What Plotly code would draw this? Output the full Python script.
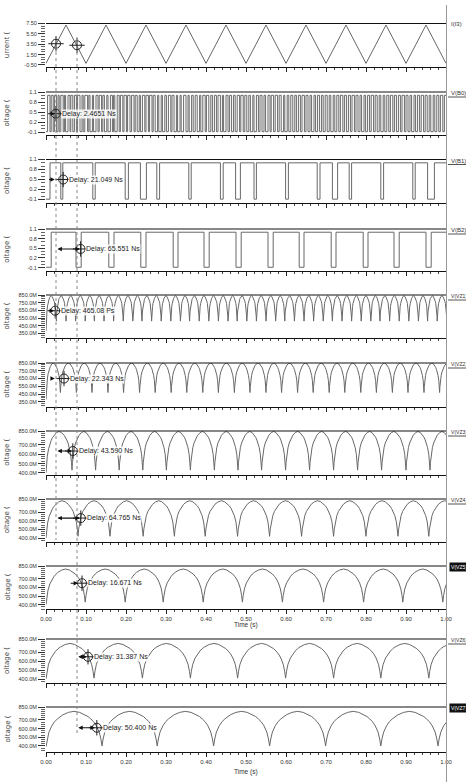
import plotly.graph_objects as go

W, H = 466, 782
XL, XR = 46, 446          # plot area left / right (px)

# ---------------- data ----------------
time_ticks = [0.0, 0.1, 0.2, 0.3, 0.4, 0.5, 0.6, 0.7, 0.8, 0.9, 1.0]
time_labels = ["0.00", "0.10", "0.20", "0.30", "0.40", "0.50", "0.60", "0.70", "0.80", "0.90", "1.00"]

# I(I3) triangle: corner times (us) and values
i3_t = [0.00, 0.05, 0.10, 0.15, 0.20, 0.25, 0.30, 0.35, 0.40, 0.45, 0.50,
        0.55, 0.60, 0.65, 0.70, 0.75, 0.80, 0.85, 0.90, 0.95, 1.00]
i3_v = [-0.2, 7.2, -0.2, 7.2, -0.2, 7.2, -0.2, 7.2, -0.2, 7.2, -0.2,
        7.2, -0.2, 7.2, -0.2, 7.2, -0.2, 7.2, -0.2, 7.2, -0.2]

# digital outputs: toggle times (us), signal starts low
b0_edges = [0.004, 0.010, 0.013, 0.018, 0.021, 0.026, 0.030, 0.033, 0.037, 0.043, 0.046, 0.049,
            0.055, 0.060, 0.062, 0.067, 0.071, 0.076, 0.079, 0.085, 0.090, 0.093, 0.097, 0.104,
            0.107, 0.110, 0.116, 0.119, 0.125, 0.130, 0.133, 0.139, 0.142, 0.146, 0.152, 0.155,
            0.161, 0.166, 0.169, 0.172, 0.178, 0.183, 0.186, 0.192, 0.195, 0.201, 0.204, 0.210,
            0.214, 0.220, 0.223, 0.228, 0.233, 0.236, 0.241, 0.247, 0.250, 0.256, 0.259, 0.265,
            0.268, 0.273, 0.279, 0.282, 0.288, 0.291, 0.297, 0.301, 0.306, 0.312, 0.315, 0.320,
            0.326, 0.329, 0.335, 0.338, 0.344, 0.350, 0.355, 0.358, 0.364, 0.368, 0.373, 0.378,
            0.384, 0.387, 0.392, 0.398, 0.401, 0.407, 0.412, 0.416, 0.421, 0.426, 0.430, 0.436,
            0.441, 0.444, 0.450, 0.455, 0.459, 0.464, 0.469, 0.473, 0.478, 0.484, 0.487, 0.493,
            0.497, 0.502, 0.507, 0.511, 0.517, 0.520, 0.526, 0.531, 0.535, 0.540, 0.545, 0.549,
            0.555, 0.560, 0.563, 0.569, 0.573, 0.579, 0.583, 0.588, 0.594, 0.597, 0.603, 0.607,
            0.612, 0.617, 0.622, 0.626, 0.631, 0.636, 0.640, 0.646, 0.650, 0.655, 0.660, 0.664,
            0.670, 0.674, 0.679, 0.684, 0.689, 0.693, 0.698, 0.703, 0.708, 0.712, 0.718, 0.722,
            0.727, 0.732, 0.736, 0.742, 0.746, 0.751, 0.756, 0.761, 0.765, 0.771, 0.775, 0.780,
            0.785, 0.789, 0.795, 0.799, 0.804, 0.809, 0.813, 0.819, 0.823, 0.828, 0.833, 0.837,
            0.843, 0.847, 0.852, 0.857, 0.861, 0.867, 0.871, 0.876, 0.881, 0.886, 0.890, 0.896,
            0.900, 0.905, 0.910, 0.914, 0.920, 0.924, 0.929, 0.934, 0.938, 0.944, 0.948, 0.953,
            0.958, 0.962, 0.968, 0.972, 0.977, 0.982, 0.986, 0.992, 0.996]
b1_edges = [0.010, 0.037, 0.042, 0.117, 0.123, 0.198, 0.206, 0.236, 0.251, 0.277, 0.284,
            0.357, 0.363, 0.436, 0.443, 0.474, 0.486, 0.520, 0.526, 0.599, 0.606, 0.678,
            0.685, 0.716, 0.729, 0.758, 0.764, 0.837, 0.844, 0.917, 0.923, 0.954, 0.971]
b2_edges = [0.013, 0.075, 0.088, 0.157, 0.170, 0.237, 0.250, 0.318, 0.330, 0.395, 0.408,
            0.475, 0.488, 0.555, 0.568, 0.633, 0.645, 0.713, 0.725, 0.793, 0.805, 0.870,
            0.883, 0.950, 0.963]

# folding outputs: cusp (minimum) times in us, first entry = start of trace
vz1_cusps = [0.000, 0.026, 0.050, 0.074, 0.098, 0.121, 0.145, 0.169, 0.193, 0.217, 0.240,
             0.264, 0.288, 0.312, 0.336, 0.359, 0.383, 0.407, 0.431, 0.455, 0.478, 0.502,
             0.526, 0.550, 0.574, 0.597, 0.621, 0.645, 0.669, 0.693, 0.716, 0.740, 0.764,
             0.788, 0.812, 0.835, 0.859, 0.883, 0.907, 0.931, 0.954, 0.978, 1.002]
vz2_cusps = [0.000, 0.036, 0.076, 0.115, 0.155, 0.194, 0.234, 0.273, 0.313, 0.352, 0.392,
             0.431, 0.471, 0.510, 0.550, 0.589, 0.629, 0.668, 0.708, 0.747, 0.787, 0.826,
             0.866, 0.905, 0.945, 0.984, 1.024]
vz3_cusps = [0.000, 0.065, 0.124, 0.183, 0.242, 0.301, 0.361, 0.421, 0.480, 0.539, 0.599,
             0.659, 0.719, 0.779, 0.839, 0.900, 0.960, 1.020]
vz4_cusps = [0.000, 0.080, 0.160, 0.243, 0.321, 0.398, 0.479, 0.559, 0.639, 0.719, 0.800,
             0.880, 0.957, 1.037]
vz5_cusps = [0.000, 0.098, 0.198, 0.293, 0.393, 0.491, 0.591, 0.694, 0.794, 0.892, 0.992, 1.092]
vz6_cusps = [0.000, 0.120, 0.241, 0.361, 0.479, 0.599, 0.719, 0.837, 0.957, 1.077]
vz7_cusps = [0.000, 0.140, 0.278, 0.419, 0.559, 0.699, 0.837, 0.980, 1.120]

# levels (V): start, cusp, peak
vz1_levels = [0.38, 0.51, 0.84]
vz2_levels = [0.38, 0.47, 0.85]
vz3_levels = [0.40, 0.43, 0.845]
vz4_levels = [0.40, 0.42, 0.83]
vz5_levels = [0.40, 0.43, 0.815]
vz6_levels = [0.40, 0.41, 0.80]
vz7_levels = [0.39, 0.40, 0.80]

# arch shape between two cusps (fraction of span, fraction of height)
arch_frac = [0.0, 0.02, 0.05, 0.10, 0.15, 0.20, 0.25, 0.30, 0.40, 0.50,
             0.60, 0.70, 0.75, 0.80, 0.85, 0.90, 0.95, 0.98, 1.0]
arch_shape = [0.0, 0.20, 0.40, 0.58, 0.70, 0.78, 0.85, 0.90, 0.97, 1.0,
              0.97, 0.90, 0.85, 0.78, 0.70, 0.58, 0.40, 0.20, 0.0]

# ---------------- layout helpers ----------------
# (top px, bottom px) of every panel
panels = [(23.5, 67), (92, 135), (159.5, 202.5), (229, 270.5), (295, 338), (363, 406.5),
          (431, 474.5), (499, 541.5), (566, 609), (639, 683), (707, 752)]
names = ["I(I3)", "V(B0)", "V(B1)", "V(B2)", "V(VZ1)", "V(VZ2)", "V(VZ3)",
         "V(VZ4)", "V(VZ5)", "V(VZ6)", "V(VZ7)"]
selected = {8, 10}

def px_x(p):
    return p / W

def px_y(p):
    return 1 - p / H

def step_trace(edges, lo=-0.09, hi=1.0):
    xs = [0.0] + list(edges) + [1.0]
    ys = []
    lvl = lo
    ys.append(lvl)
    for _ in edges:
        lvl = hi if lvl == lo else lo
        ys.append(lvl)
    ys.append(lvl)
    return xs, ys

def arch_trace(cusps, levels):
    start, cusp, peak = levels
    xs, ys = [], []
    for i in range(len(cusps) - 1):
        a, b = cusps[i], cusps[i + 1]
        left = start if i == 0 else cusp
        for f, s in zip(arch_frac, arch_shape):
            if i > 0 and f == 0.0:
                continue
            base = left * (1 - f) + cusp * f
            xs.append(a + f * (b - a))
            ys.append(base + (peak - base) * s)
    return xs, ys

fig = go.Figure()

FONT = "Liberation Sans Narrow, Liberation Sans, Arial, sans-serif"
LINE = "#686868"

series = [
    (i3_t, i3_v, "linear"),
    (*step_trace(b0_edges), "hv"),
    (*step_trace(b1_edges), "hv"),
    (*step_trace(b2_edges), "hv"),
    (*arch_trace(vz1_cusps, vz1_levels), "linear"),
    (*arch_trace(vz2_cusps, vz2_levels), "linear"),
    (*arch_trace(vz3_cusps, vz3_levels), "linear"),
    (*arch_trace(vz4_cusps, vz4_levels), "linear"),
    (*arch_trace(vz5_cusps, vz5_levels), "linear"),
    (*arch_trace(vz6_cusps, vz6_levels), "linear"),
    (*arch_trace(vz7_cusps, vz7_levels), "linear"),
]

yranges = [[-0.9, 7.5]] + [[-0.19, 1.1]] * 3 + [[0.29, 0.85]] * 2 + \
          [[0.383, 0.85], [0.36, 0.85], [0.35, 0.85], [0.355, 0.85], [0.33, 0.85]]
ytickv = [[7.5, 5.5, 3.5, 1.5, -0.5]] + [[1.1, 0.8, 0.5, 0.2, -0.1]] * 3 + \
         [[0.85, 0.75, 0.65, 0.55, 0.45, 0.35]] * 2 + [[0.85, 0.7, 0.6, 0.5, 0.4]] * 5
ytickt = [["7.50", "5.50", "3.50", "1.50", "-0.50"]] + [["1.1", "0.8", "0.5", "0.2", "-0.1"]] * 3 + \
         [["850.0M", "750.0M", "650.0M", "550.0M", "450.0M", "350.0M"]] * 2 + \
         [["850.0M", "700.0M", "600.0M", "500.0M", "400.0M"]] * 5
yminor = [0.5] + [0.1] * 3 + [0.025] * 2 + [0.025] * 5
ytitles = ["urrent ("] + ["oltage ("] * 10

shapes = []
annotations = []

for k, (xs, ys, shape) in enumerate(series):
    n = "" if k == 0 else str(k + 1)
    top, bot = panels[k]
    fig.add_trace(go.Scatter(x=xs, y=ys, mode="lines", line=dict(color=LINE, width=1, shape=shape),
                             xaxis="x" + n, yaxis="y" + n, showlegend=False, hoverinfo="skip"))
    show_lbl = k in (8, 10)
    fig.layout["xaxis" + n] = dict(
        domain=[px_x(XL), px_x(XR)], anchor="y" + n, range=[0, 1.0], automargin=False,
        showgrid=False, zeroline=False, showline=True, linecolor="#111", linewidth=1,
        ticks="outside", ticklen=4, tickwidth=1, tickcolor="#222",
        tickmode="array", tickvals=time_ticks, ticktext=time_labels,
        showticklabels=show_lbl, tickfont=dict(family=FONT, size=6, color="#333"),
        minor=dict(dtick=0.02, ticks="outside", ticklen=2, tickcolor="#444", tick0=0),
        fixedrange=True,
    )
    fig.layout["yaxis" + n] = dict(
        domain=[px_y(bot), px_y(top)], anchor="x" + n, range=yranges[k], automargin=False,
        showgrid=False, zeroline=False, showline=False,
        ticks="outside", ticklen=7, tickwidth=1, tickcolor="#333",
        tickmode="array", tickvals=ytickv[k], ticktext=ytickt[k],
        tickfont=dict(family=FONT, size=5.5, color="#333"),
        minor=dict(dtick=yminor[k], tick0=ytickv[k][-1], ticks="outside", ticklen=4, tickcolor="#666"),
        fixedrange=True,
    )
    # top border line
    shapes.append(dict(type="line", xref="paper", yref="paper", x0=px_x(XL), x1=px_x(XR + 1),
                       y0=px_y(top), y1=px_y(top), line=dict(color="#111", width=1.2)))
    # y title (clipped-looking)
    annotations.append(dict(x=px_x(7), y=px_y((top + bot) / 2), xref="paper", yref="paper",
                            xanchor="center", yanchor="middle",
                            text=ytitles[k], textangle=-90, showarrow=False,
                            font=dict(family="DejaVu Sans", size=7, color="#444")))
    # right-hand signal label
    lbl_size = 6 if k < 4 else 5.1
    if k in selected:
        annotations.append(dict(x=px_x(448.5), y=px_y(top + 1), xref="paper", yref="paper",
                                xanchor="left", yanchor="middle", text=names[k], showarrow=False,
                                bgcolor="#111", borderpad=1,
                                font=dict(family=FONT, size=lbl_size, color="white")))
    else:
        annotations.append(dict(x=px_x(448.5), y=px_y(top + 1), xref="paper", yref="paper",
                                xanchor="left", yanchor="middle", text=names[k], showarrow=False,
                                font=dict(family=FONT, size=lbl_size, color="#333")))
        if k > 0:
            shapes.append(dict(type="line", xref="paper", yref="paper", x0=px_x(448), x1=1,
                               y0=px_y(top + 5), y1=px_y(top + 5), line=dict(color="#555", width=1)))

# Time (s) titles
for yp in (631, 778):
    annotations.append(dict(x=px_x(246), y=px_y(yp), xref="paper", yref="paper", text="Time (s)",
                            showarrow=False, font=dict(family=FONT, size=6.5, color="#333")))

# right separator line
shapes.append(dict(type="line", xref="paper", yref="paper", x0=px_x(446.5), x1=px_x(446.5),
                   y0=px_y(5), y1=0, line=dict(color="#999", width=1)))

# cursors (dashed)
shapes.append(dict(type="line", xref="paper", yref="paper", x0=px_x(56), x1=px_x(56),
                   y0=px_y(40), y1=px_y(540), line=dict(color="#888", width=1, dash="dot")))
shapes.append(dict(type="line", xref="paper", yref="paper", x0=px_x(77), x1=px_x(77),
                   y0=px_y(40), y1=px_y(735), line=dict(color="#888", width=1, dash="dot")))

# delay measurements: panel, arrow from, arrow to, y, circle t, text, double-headed
measures = [
    (1, 0.010, 0.022, 0.45, 0.0245, "Delay: 2.4651 Ns", False),
    (2, 0.004, 0.022, 0.50, 0.0430, "Delay: 21.049 Ns", False),
    (3, 0.025, 0.085, 0.48, 0.0865, "Delay: 65.551 Ns", True),
    (4, 0.003, 0.020, 0.645, 0.0230, "Delay: 465.08 Ps", False),
    (5, 0.009, 0.022, 0.65, 0.0450, "Delay: 22.343 Ns", False),
    (6, 0.025, 0.065, 0.635, 0.0670, "Delay: 43.590 Ns", True),
    (7, 0.025, 0.085, 0.63, 0.0870, "Delay: 64.765 Ns", True),
    (8, 0.058, 0.080, 0.65, 0.0900, "Delay: 16.671 Ns", False),
    (9, 0.077, 0.102, 0.65, 0.1050, "Delay: 31.387 Ns", True),
    (10, 0.077, 0.122, 0.61, 0.1270, "Delay: 50.400 Ns", True),
]
for k, a0, a1, yv, ct, txt, dbl in measures:
    n = str(k + 1)
    annotations.append(dict(x=a1, y=yv, ax=a0, ay=yv, xref="x" + n, yref="y" + n,
                            axref="x" + n, ayref="y" + n, text="", showarrow=True,
                            arrowhead=2, arrowsize=0.8, arrowwidth=1.1, arrowcolor="#111",
                            arrowside="end+start" if dbl else "end"))
    fig.add_trace(go.Scatter(x=[ct], y=[yv], mode="markers", xaxis="x" + n, yaxis="y" + n,
                             marker=dict(symbol="circle-open", size=9, color="#222", line=dict(width=1)),
                             showlegend=False, hoverinfo="skip"))
    fig.add_trace(go.Scatter(x=[ct], y=[yv], mode="markers", xaxis="x" + n, yaxis="y" + n,
                             marker=dict(symbol="cross-thin-open", size=11, color="#222", line=dict(width=1)),
                             showlegend=False, hoverinfo="skip"))
    annotations.append(dict(x=ct + 0.012, y=yv, xref="x" + n, yref="y" + n, xanchor="left",
                            yanchor="middle", text=txt, showarrow=False, bgcolor="rgba(255,255,255,0.85)",
                            borderpad=0, font=dict(family=FONT, size=7, color="#222")))

# I3 cursor markers
for ct, yv in ((0.025, 3.6), (0.0775, 3.3)):
    fig.add_trace(go.Scatter(x=[ct], y=[yv], mode="markers", xaxis="x", yaxis="y",
                             marker=dict(symbol="circle-open", size=9, color="#222", line=dict(width=1)),
                             showlegend=False, hoverinfo="skip"))
    fig.add_trace(go.Scatter(x=[ct], y=[yv], mode="markers", xaxis="x", yaxis="y",
                             marker=dict(symbol="cross-thin-open", size=11, color="#222", line=dict(width=1)),
                             showlegend=False, hoverinfo="skip"))

fig.update_layout(width=W, height=H, margin=dict(l=0, r=0, t=0, b=0, autoexpand=False),
                  paper_bgcolor="white", plot_bgcolor="white",
                  shapes=shapes, annotations=annotations, showlegend=False)

fig.write_html("out.html", config={"displayModeBar": False},
               post_script="document.body.style.margin='0';document.body.style.overflow='hidden';")
